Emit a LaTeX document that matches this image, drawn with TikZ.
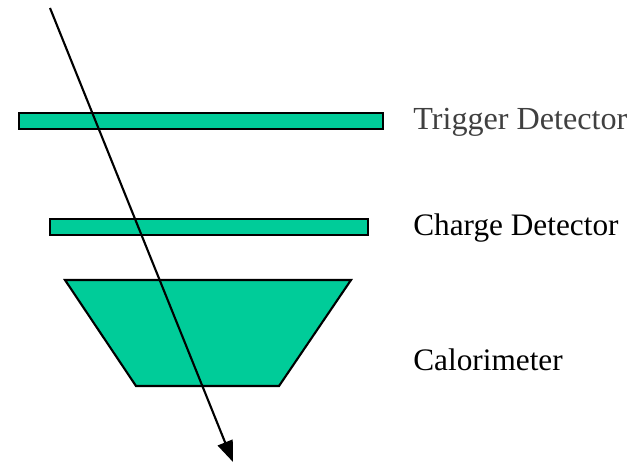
\documentclass[tikz,border=0pt]{standalone}
\usepackage{fontspec}
\setmainfont{Liberation Serif}
\usetikzlibrary{arrows.meta}

\definecolor{detgreen}{HTML}{00CC99}
\tikzset{
  detector/.style={draw, fill=detgreen, line width=1.2pt},
  label/.style={anchor=base west, inner sep=0pt, font=\fontsize{17.8}{20}\selectfont},
}

\begin{document}
\begin{tikzpicture}[x=0.02cm,y=-0.02cm]
        \useasboundingbox (0,0) rectangle (639,462);

        \node[detector, minimum width=7.28cm, minimum height=0.32cm, inner sep=0pt] (trig) at (201,121) {};
        \node[detector, minimum width=6.36cm, minimum height=0.32cm, inner sep=0pt] (charge) at (209,227) {};
        % calorimeter
        \draw[detector] (65,280) -- (351,280) -- (279,386) -- (136,386) -- cycle;

        \node[label, text=black!75, font=\fontsize{18.3}{20}\selectfont] (trigtxt) at (413,130) {Trigger Detector};
        \node[label] (chargetxt) at (413,236) {Charge Detector};
        \node[label] (calotxt) at (413,371) {Calorimeter};

        %% particle track
        \coordinate (in) at (50,8);
        \coordinate (out) at (233,462);
        \draw[-{Triangle[length=12pt,width=9pt]}, line width=1.2pt] (in) -- (out);

\end{tikzpicture}
\end{document}
